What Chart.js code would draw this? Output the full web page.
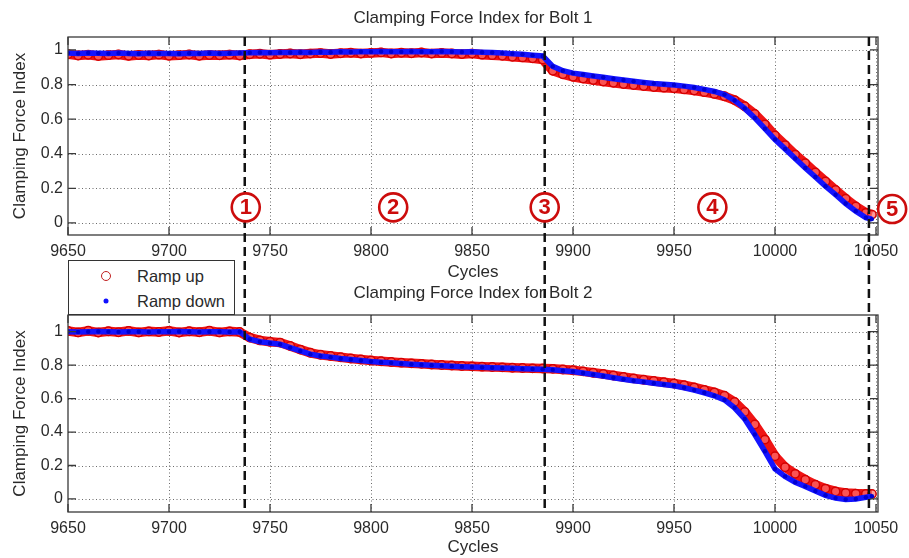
<!DOCTYPE html>
<html>
<head>
<meta charset="utf-8">
<title>Clamping Force Index</title>
<script src="https://cdn.jsdelivr.net/npm/chart.js@4.4.0/dist/chart.umd.min.js"></script>
<style>
    body { margin: 0; background: #fff; }
    #wrap { position: relative; width: 909px; height: 558px; overflow: hidden; }
    #wrap canvas { position: absolute; left: 0; }
    #bolt1 { top: 0; }
    #bolt2 { top: 270px; }
    #legend {
        position: absolute; left: 68px; top: 260px; width: 167px; height: 55px;
        box-sizing: border-box; border: 1.3px solid #333; background: #fff;
        font: 16.5px 'Liberation Sans', Arial, sans-serif; color: #2a2a2a;
    }
    #legend .row { position: absolute; left: 0; width: 100%; height: 20px; line-height: 20px; }
    #legend .txt { position: absolute; left: 68px; }
    #legend .mk { position: absolute; left: 37px; top: 50%; transform: translate(-50%, -50%); border-radius: 50%; box-sizing: border-box; }
    #legend .up { width: 10px; height: 10px; border: 1.5px solid #c02020; }
    #legend .down { width: 5px; height: 5px; background: #1010ff; }
</style>
</head>
<body>
<div id="wrap">
    <canvas id="bolt1" width="909" height="300"></canvas>
    <canvas id="bolt2" width="909" height="288"></canvas>
    <div id="legend">
        <div class="row" style="top:5px"><span class="mk up"></span><span class="txt">Ramp up</span></div>
        <div class="row" style="top:30px"><span class="mk down"></span><span class="txt">Ramp down</span></div>
    </div>
</div>
<script>
// cycle numbers (one sample every 5 cycles)
const cycles = [
    9650, 9655, 9660, 9665, 9670, 9675, 9680, 9685, 9690, 9695,
    9700, 9705, 9710, 9715, 9720, 9725, 9730, 9735, 9740, 9745,
    9750, 9755, 9760, 9765, 9770, 9775, 9780, 9785, 9790, 9795,
    9800, 9805, 9810, 9815, 9820, 9825, 9830, 9835, 9840, 9845,
    9850, 9855, 9860, 9865, 9870, 9875, 9880, 9885, 9890, 9895,
    9900, 9905, 9910, 9915, 9920, 9925, 9930, 9935, 9940, 9945,
    9950, 9955, 9960, 9965, 9970, 9975, 9980, 9985, 9990, 9995,
    10000, 10005, 10010, 10015, 10020, 10025, 10030, 10035, 10040, 10045,
    10048
];

// Bolt 1
const bolt1Up = [
    0.975, 0.968, 0.972, 0.965, 0.970, 0.974, 0.966, 0.971, 0.968, 0.973,
    0.966, 0.970, 0.974, 0.967, 0.971, 0.969, 0.973, 0.968, 0.975, 0.978,
    0.973, 0.977, 0.980, 0.975, 0.979, 0.982, 0.977, 0.981, 0.984, 0.979,
    0.983, 0.986, 0.980, 0.984, 0.981, 0.985, 0.979, 0.983, 0.980, 0.976,
    0.979, 0.973, 0.970, 0.966, 0.961, 0.957, 0.952, 0.945, 0.880, 0.860,
    0.845, 0.835, 0.826, 0.818, 0.810, 0.803, 0.797, 0.791, 0.786, 0.782,
    0.778, 0.772, 0.765, 0.756, 0.746, 0.732, 0.710, 0.675, 0.630, 0.570,
    0.505, 0.450, 0.395, 0.345, 0.292, 0.240, 0.190, 0.140, 0.095, 0.058,
    0.048
];
const bolt1Down = [
    0.982, 0.980, 0.983, 0.981, 0.979, 0.982, 0.980, 0.978, 0.981, 0.979,
    0.980, 0.978, 0.981, 0.979, 0.982, 0.980, 0.981, 0.983, 0.984, 0.985,
    0.984, 0.986, 0.985, 0.987, 0.986, 0.988, 0.987, 0.989, 0.988, 0.990,
    0.989, 0.991, 0.990, 0.989, 0.991, 0.990, 0.989, 0.991, 0.990, 0.988,
    0.989, 0.987, 0.985, 0.982, 0.978, 0.975, 0.970, 0.965, 0.905, 0.880,
    0.866, 0.858, 0.850, 0.842, 0.834, 0.826, 0.819, 0.812, 0.806, 0.802,
    0.798, 0.791, 0.783, 0.772, 0.760, 0.742, 0.708, 0.662, 0.607, 0.545,
    0.482, 0.428, 0.372, 0.318, 0.265, 0.212, 0.163, 0.112, 0.068, 0.030,
    0.022
];

// Bolt 2
const bolt2Up = [
    1.004, 0.996, 1.006, 0.995, 1.003, 0.997, 1.005, 0.996, 1.002, 0.998,
    1.005, 0.995, 1.003, 0.997, 1.006, 0.996, 1.002, 0.998, 0.965, 0.948,
    0.940, 0.935, 0.915, 0.893, 0.874, 0.862, 0.855, 0.847, 0.840, 0.834,
    0.828, 0.823, 0.819, 0.815, 0.811, 0.808, 0.804, 0.801, 0.798, 0.795,
    0.793, 0.791, 0.789, 0.787, 0.785, 0.783, 0.781, 0.780, 0.778, 0.774,
    0.770, 0.763, 0.755, 0.747, 0.738, 0.729, 0.721, 0.713, 0.705, 0.698,
    0.690, 0.680, 0.667, 0.652, 0.637, 0.617, 0.580, 0.520, 0.445, 0.355,
    0.255, 0.190, 0.150, 0.115, 0.085, 0.062, 0.045, 0.036, 0.032, 0.030,
    0.030
];
const bolt2Down = [
    1.000, 0.999, 1.000, 1.001, 1.000, 0.999, 1.000, 1.000, 0.999, 1.000,
    1.000, 1.001, 1.000, 0.999, 1.000, 1.000, 0.999, 1.000, 0.955, 0.940,
    0.932, 0.925, 0.905, 0.885, 0.866, 0.855, 0.848, 0.840, 0.834, 0.828,
    0.822, 0.818, 0.814, 0.810, 0.806, 0.803, 0.800, 0.797, 0.794, 0.791,
    0.789, 0.787, 0.785, 0.783, 0.781, 0.779, 0.777, 0.776, 0.772, 0.767,
    0.762, 0.753, 0.744, 0.735, 0.725, 0.716, 0.707, 0.700, 0.692, 0.685,
    0.677, 0.665, 0.651, 0.635, 0.617, 0.592, 0.545, 0.478, 0.385, 0.285,
    0.180, 0.135, 0.100, 0.075, 0.047, 0.022, 0.005, -0.003, 0.000, 0.010,
    0.016
];

const xTicks = [9650, 9700, 9750, 9800, 9850, 9900, 9950, 10000, 10050];
const yTicks = [0, 0.2, 0.4, 0.6, 0.8, 1];

// stage boundaries (dashed lines) and the circled stage numbers
const stageBounds = [9737.5, 9886, 10046.5];
const stageNames = ['1', '2', '3', '4', '5'];
const stageCycles = [9738, 9811, 9886, 9969, 10058];
const stageLevels = [0.09, 0.09, 0.09, 0.09, 0.08];

const FONT = "'Liberation Sans', Arial, sans-serif";
const TEXT = '#2a2a2a';
const RED = '#f01414';
const BLUE = '#1414ff';
const JOIN_Y = 285;          // page y where the dashed lines pass from one canvas to the other
const BOTTOM_CANVAS_Y = 270;
const DASH = [9, 5];

let topChart = null;

const decor = {
    id: 'decor',
    beforeDatasetsDraw(chart) {
        const {ctx, chartArea: a, scales: {x, y}} = chart;
        ctx.save();
        ctx.strokeStyle = 'rgba(70,70,70,0.8)';
        ctx.lineWidth = 1;
        ctx.setLineDash([1, 2.5]);
        xTicks.forEach(v => {
            const px = Math.round(x.getPixelForValue(v)) + 0.5;
            if (px <= a.left + 1 || px >= a.right - 1) return;
            ctx.beginPath(); ctx.moveTo(px, a.top); ctx.lineTo(px, a.bottom); ctx.stroke();
        });
        yTicks.forEach(v => {
            const py = Math.round(y.getPixelForValue(v)) + 0.5;
            ctx.beginPath(); ctx.moveTo(a.left, py); ctx.lineTo(a.right, py); ctx.stroke();
        });
        ctx.restore();
    },
    afterDatasetsDraw(chart) {
        const {ctx, chartArea: a, scales: {x, y}} = chart;
        ctx.save();
        ctx.setLineDash([]);
        ctx.strokeStyle = '#3a3a3a';
        ctx.lineWidth = 1.3;
        ctx.strokeRect(a.left, a.top, a.right - a.left, a.bottom - a.top);
        ctx.beginPath();
        xTicks.forEach(v => {
            const px = x.getPixelForValue(v);
            ctx.moveTo(px, a.bottom); ctx.lineTo(px, a.bottom - 8);
            ctx.moveTo(px, a.top); ctx.lineTo(px, a.top + 8);
        });
        yTicks.forEach(v => {
            const py = y.getPixelForValue(v);
            ctx.moveTo(a.left, py); ctx.lineTo(a.left + 8, py);
            ctx.moveTo(a.right, py); ctx.lineTo(a.right - 8, py);
        });
        ctx.stroke();
        ctx.restore();
    },
    afterDraw(chart, args, opts) {
        const {ctx, chartArea: a, scales: {x, y}} = chart;
        ctx.save();
        // stage boundaries, running through both plots
        ctx.strokeStyle = '#111';
        ctx.lineWidth = 2.5;
        ctx.setLineDash(DASH);
        let y0, y1;
        if (opts.upper) {
            y0 = a.top; y1 = JOIN_Y;
            ctx.lineDashOffset = 0;
        } else {
            const topStart = topChart ? topChart.chartArea.top : 37;
            y0 = JOIN_Y - BOTTOM_CANVAS_Y; y1 = a.bottom;
            ctx.lineDashOffset = (JOIN_Y - topStart) % (DASH[0] + DASH[1]);
        }
        stageBounds.forEach(c => {
            const px = x.getPixelForValue(c);
            ctx.beginPath(); ctx.moveTo(px, y0); ctx.lineTo(px, y1); ctx.stroke();
        });
        ctx.setLineDash([]);
        // circled stage numbers
        if (opts.upper) {
            stageNames.forEach((s, i) => {
                const px = x.getPixelForValue(stageCycles[i]);
                const py = y.getPixelForValue(stageLevels[i]);
                ctx.beginPath();
                ctx.arc(px, py, 14, 0, Math.PI * 2);
                ctx.fillStyle = '#fff';
                ctx.fill();
                ctx.lineWidth = 2.6;
                ctx.strokeStyle = '#cc0c0c';
                ctx.stroke();
                ctx.fillStyle = '#cc0c0c';
                ctx.font = 'bold 22px ' + FONT;
                ctx.textAlign = 'center';
                ctx.textBaseline = 'middle';
                ctx.fillText(s, px, py + 1);
            });
        }
        ctx.restore();
    }
};

function makeChart(id, titleText, up, down, yRange, lay) {
    const ctx = document.getElementById(id).getContext('2d');
    return new Chart(ctx, {
        type: 'line',
        data: {
            datasets: [{
                label: 'Ramp up',
                data: cycles.map((c, i) => ({x: c, y: up[i]})),
                order: 2,
                borderColor: RED,
                borderWidth: 9.5,
                pointStyle: 'circle',
                pointRadius: 4.2,
                pointBorderWidth: 1.5,
                pointBorderColor: '#d40000',
                pointBackgroundColor: 'rgba(255,110,110,0.7)',
                tension: 0
            }, {
                label: 'Ramp down',
                data: cycles.map((c, i) => ({x: c, y: down[i]})),
                order: 1,
                borderColor: BLUE,
                borderWidth: 5.5,
                pointRadius: 2.2,
                pointBorderWidth: 0,
                pointBackgroundColor: '#0000d0',
                tension: 0
            }]
        },
        options: {
            responsive: false,
            animation: false,
            events: [],
            layout: { padding: { left: 0, right: 31, top: 0, bottom: 0 } },
            scales: {
                x: {
                    type: 'linear',
                    min: 9650,
                    max: 10051,
                    afterBuildTicks: s => { s.ticks = xTicks.map(v => ({value: v})); },
                    afterFit: s => { s.height = lay.xHeight; },
                    grid: { display: false, drawTicks: false },
                    border: { display: false },
                    ticks: {
                        autoSkip: false, maxRotation: 0, padding: 7,
                        color: TEXT, font: { family: FONT, size: 16 },
                        callback: v => String(v)
                    },
                    title: {
                        display: true, text: 'Cycles', color: TEXT,
                        font: { family: FONT, size: 17 },
                        padding: { top: 0, bottom: lay.cyclesPad }
                    }
                },
                y: {
                    min: yRange[0],
                    max: yRange[1],
                    afterBuildTicks: s => { s.ticks = yTicks.map(v => ({value: v})); },
                    afterFit: s => { s.width = 68; },
                    grid: { display: false, drawTicks: false },
                    border: { display: false },
                    ticks: {
                        padding: 5, color: TEXT, font: { family: FONT, size: 16 },
                        callback: v => String(+v.toFixed(1))
                    },
                    title: {
                        display: true, text: 'Clamping Force Index', color: TEXT,
                        font: { family: FONT, size: 17 },
                        padding: { top: 10, bottom: 0 }
                    }
                }
            },
            plugins: {
                legend: { display: false },
                tooltip: { enabled: false },
                title: {
                    display: true, text: titleText, color: TEXT, fullSize: false,
                    font: { family: FONT, size: 17, weight: 'normal' },
                    padding: { top: lay.titleTop, bottom: lay.titleBottom }
                },
                decor: { upper: lay.upper }
            }
        },
        plugins: [decor]
    });
}

topChart = makeChart('bolt1', 'Clamping Force Index for Bolt 1', bolt1Up, bolt1Down, [-0.07, 1.075],
    { upper: true, xHeight: 65, cyclesPad: 17, titleTop: 8, titleBottom: 8.6 });
makeChart('bolt2', 'Clamping Force Index for Bolt 2', bolt2Up, bolt2Down, [-0.078, 1.1],
    { upper: false, xHeight: 46, cyclesPad: 0, titleTop: 12.8, titleBottom: 11.8 });
</script>
</body>
</html>
